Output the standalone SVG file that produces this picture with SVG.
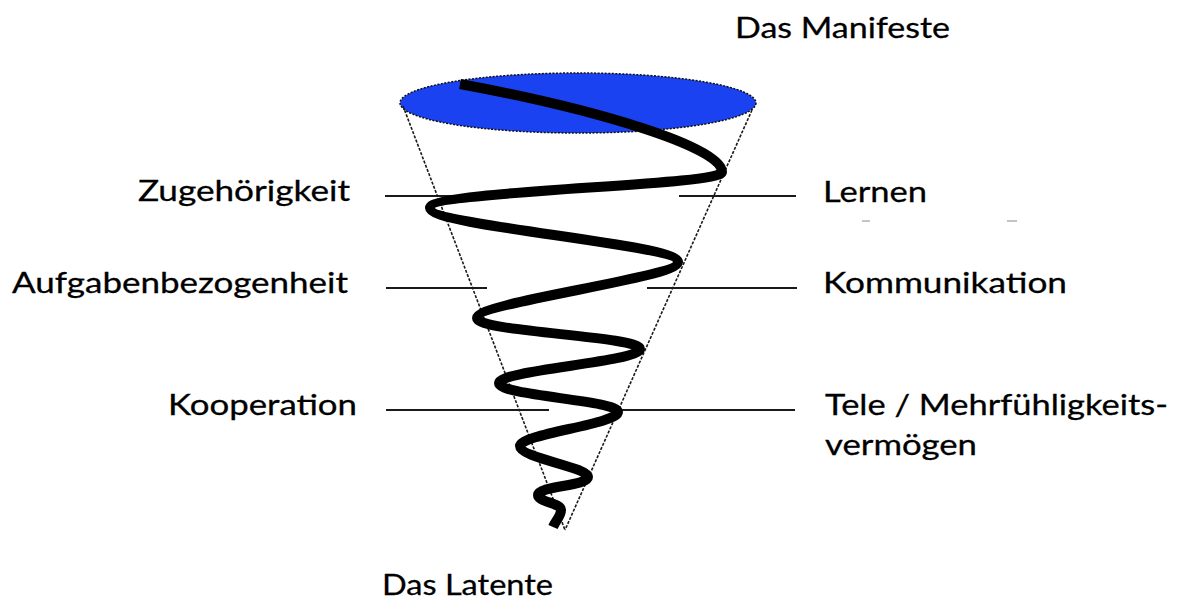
<svg xmlns="http://www.w3.org/2000/svg" width="1181" height="601" viewBox="0 0 1181 601">
<style>
.lbl{font-family:Lato,"Liberation Sans",sans-serif;font-size:29px;fill:#000;stroke:#000;stroke-width:0.3}
.hl{stroke:#1a1a1a;stroke-width:2;fill:none}
.cone{stroke:#1a1a1a;stroke-width:1.6;stroke-dasharray:3 1.5;fill:none}
.mark{stroke:#c4c4c4;stroke-width:2}
</style>
<rect width="1181" height="601" fill="#fff"/>
<g id="cone">
<ellipse cx="578" cy="103" rx="178" ry="30" fill="#1a42f0" stroke="#111" stroke-width="1.5" stroke-dasharray="2 1.5"/>
<line class="cone" x1="403" y1="106" x2="565" y2="530"/>
<line class="cone" x1="752" y1="110" x2="565" y2="530"/>
</g>
<g id="connectors">
<line class="hl" x1="385" y1="196" x2="455" y2="196"/>
<line class="hl" x1="679" y1="196" x2="796" y2="196"/>
<line class="hl" x1="386" y1="288" x2="487" y2="288"/>
<line class="hl" x1="647" y1="288" x2="797" y2="288"/>
<line class="hl" x1="386" y1="410" x2="549" y2="410"/>
<line class="hl" x1="620" y1="410" x2="795" y2="410"/>
<line class="mark" x1="862" y1="221" x2="870" y2="221"/>
<line class="mark" x1="1007" y1="221" x2="1017" y2="221"/>
</g>
<g id="spiral">
<path d="M 460 84 C 590 108, 722 146, 722 172 C 722 186, 430 190, 430 208 C 430 226, 678 244, 678 262 C 678 278, 477 302, 477 318 C 477 332, 640 336, 640 349 C 640 362, 499 370, 499 383 C 499 396, 618 400, 618 412 C 618 424, 520 434, 520 446 C 520 458, 588 467, 588 477 C 588 486, 538 486, 538 495 C 538 502, 561 503, 561 510 C 561 516, 556 520, 553 527" fill="none" stroke="#000" stroke-width="10" stroke-linejoin="round"/>
</g>
<g id="label-manifeste"><text class="lbl" x="735" y="38" textLength="215" lengthAdjust="spacingAndGlyphs">Das Manifeste</text></g>
<g id="label-zugehoerigkeit"><text class="lbl" x="138" y="201" textLength="212" lengthAdjust="spacingAndGlyphs">Zugehörigkeit</text></g>
<g id="label-aufgaben"><text class="lbl" x="12" y="293" textLength="336" lengthAdjust="spacingAndGlyphs">Aufgabenbezogenheit</text></g>
<g id="label-kooperation"><text class="lbl" x="168" y="415" textLength="189" lengthAdjust="spacingAndGlyphs">Kooperation</text></g>
<g id="label-lernen"><text class="lbl" x="823" y="202" textLength="104" lengthAdjust="spacingAndGlyphs">Lernen</text></g>
<g id="label-kommunikation"><text class="lbl" x="823" y="293" textLength="244" lengthAdjust="spacingAndGlyphs">Kommunikation</text></g>
<g id="label-tele"><text class="lbl" x="825" y="415" textLength="343" lengthAdjust="spacingAndGlyphs">Tele / Mehrfühligkeits-</text><text class="lbl" x="825" y="455" textLength="152" lengthAdjust="spacingAndGlyphs">vermögen</text></g>
<g id="label-latente"><text class="lbl" x="382" y="595" textLength="171" lengthAdjust="spacingAndGlyphs">Das Latente</text></g>
</svg>
